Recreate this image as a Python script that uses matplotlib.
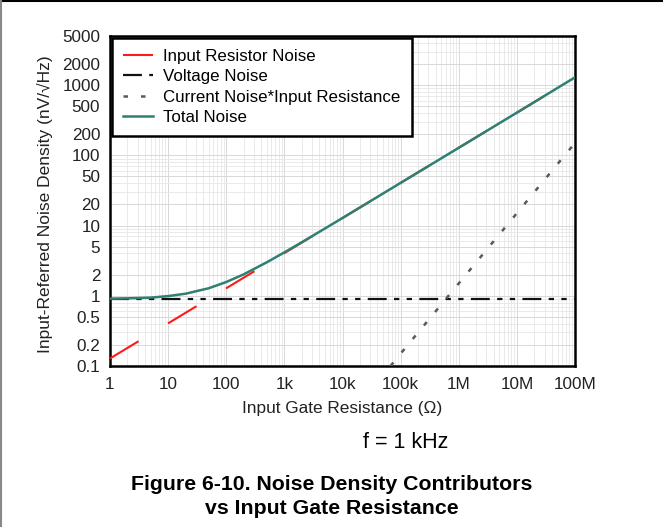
import matplotlib
matplotlib.use("Agg")
import matplotlib.pyplot as plt
from matplotlib.lines import Line2D

plt.rcParams['font.family'] = ['Liberation Sans', 'DejaVu Sans']

# ---- data ----
resistance = [1, 10, 100, 1e3, 1e4, 1e5, 1e6, 1e7, 1e8]
resistor_noise = [0.128, 0.405, 1.28, 4.05, 12.8, 40.5, 128, 405, 1280]
voltage_noise = [0.9, 0.9, 0.9, 0.9, 0.9, 0.9, 0.9, 0.9, 0.9]

current_res = [6.7e4, 1e5, 1e6, 1e7, 1e8]
current_noise = [0.1, 0.15, 1.5, 15, 150]

total_res = [1, 2, 5, 10, 20, 50, 100, 200, 500, 1e3, 2e3, 5e3, 1e4, 1e5, 1e6, 1e7, 1e8]
total_noise = [0.91, 0.92, 0.94, 0.99, 1.07, 1.28, 1.57, 2.02, 3.0, 4.15, 5.79, 9.09,
               12.8, 40.5, 128, 405, 1290]

xtick_vals = [1, 10, 100, 1e3, 1e4, 1e5, 1e6, 1e7, 1e8]
xtick_labels = ['1', '10', '100', '1k', '10k', '100k', '1M', '10M', '100M']
ytick_vals = [0.1, 0.2, 0.5, 1, 2, 5, 10, 20, 50, 100, 200, 500, 1000, 2000, 5000]
ytick_labels = ['0.1', '0.2', '0.5', '1', '2', '5', '10', '20', '50', '100', '200',
                '500', '1000', '2000', '5000']

# ---- figure ----
fig = plt.figure(figsize=(6.63, 5.27), dpi=100)
ax = fig.add_axes([110/663, 1-366/527, 465/663, 330/527])

ax.plot(resistance, resistor_noise, color='#ff1a1a', lw=1.5,
        linestyle=(0, (16, 16.5)), label='Input Resistor Noise', zorder=3)
ax.plot(resistance, voltage_noise, color='#111111', lw=1.6,
        linestyle=(0, (8.5, 3.3, 2.4, 3.3, 2.4, 3.3)), label='Voltage Noise', zorder=3)
ax.plot(current_res, current_noise, color='#5a5a5a', lw=1.8,
        linestyle=(0, (1.8, 5.2)), label='Current Noise*Input Resistance', zorder=3)
ax.plot(total_res, total_noise, color='#2f7f72', lw=1.8,
        label='Total Noise', zorder=4)

ax.set_xscale('log')
ax.set_yscale('log')
ax.set_xlim(1, 1e8)
ax.set_ylim(0.1, 5000)

ax.set_xticks(xtick_vals)
ax.set_xticklabels(xtick_labels, fontsize=12.3, color='#222222')
ax.set_yticks(ytick_vals)
ax.set_yticklabels(ytick_labels, fontsize=12.3, color='#222222')
ax.tick_params(which='both', length=0)
ax.tick_params(axis='x', pad=8)
ax.tick_params(axis='y', pad=7)

ax.grid(True, which='major', color='#d8d8d8', lw=0.7)
ax.grid(True, which='minor', color='#e6e6e6', lw=0.6)
ax.set_axisbelow(True)
for s in ax.spines.values():
    s.set_linewidth(1.8)
    s.set_color('black')

leg = ax.legend(loc='upper left', fontsize=12.2, frameon=True, fancybox=False,
                framealpha=1, edgecolor='black', borderaxespad=0.1,
                handlelength=1.8, labelspacing=0.32, borderpad=0.65,
                handletextpad=0.6)
leg.get_frame().set_linewidth(1.8)
leg.set_zorder(10)

fig.text(342/663, 1-408/527, 'Input Gate Resistance (\u03a9)', ha='center', va='center',
         fontsize=12.4, color='#222222')
fig.text(45/663, 1-204/527, 'Input-Referred Noise Density (nV/\u221aHz)', ha='center',
         va='center', rotation=90, fontsize=12.5, color='#222222')

fig.text(406/663, 1-443/527, 'f = 1 kHz', ha='center', va='center', fontsize=15.5)
fig.text(332/663, 1-485/527, 'Figure 6-10. Noise Density Contributors', ha='center',
         va='center', fontsize=15.3, fontweight='bold')
fig.text(332/663, 1-509/527, 'vs Input Gate Resistance', ha='center',
         va='center', fontsize=15.3, fontweight='bold')

fig.add_artist(Line2D([0, 1], [0.999, 0.999], transform=fig.transFigure,
                      color='black', lw=1.5))
fig.add_artist(Line2D([0.002, 0.002], [0, 1], transform=fig.transFigure,
                      color='#888888', lw=1.5))

fig.savefig('out.png', dpi=100)
